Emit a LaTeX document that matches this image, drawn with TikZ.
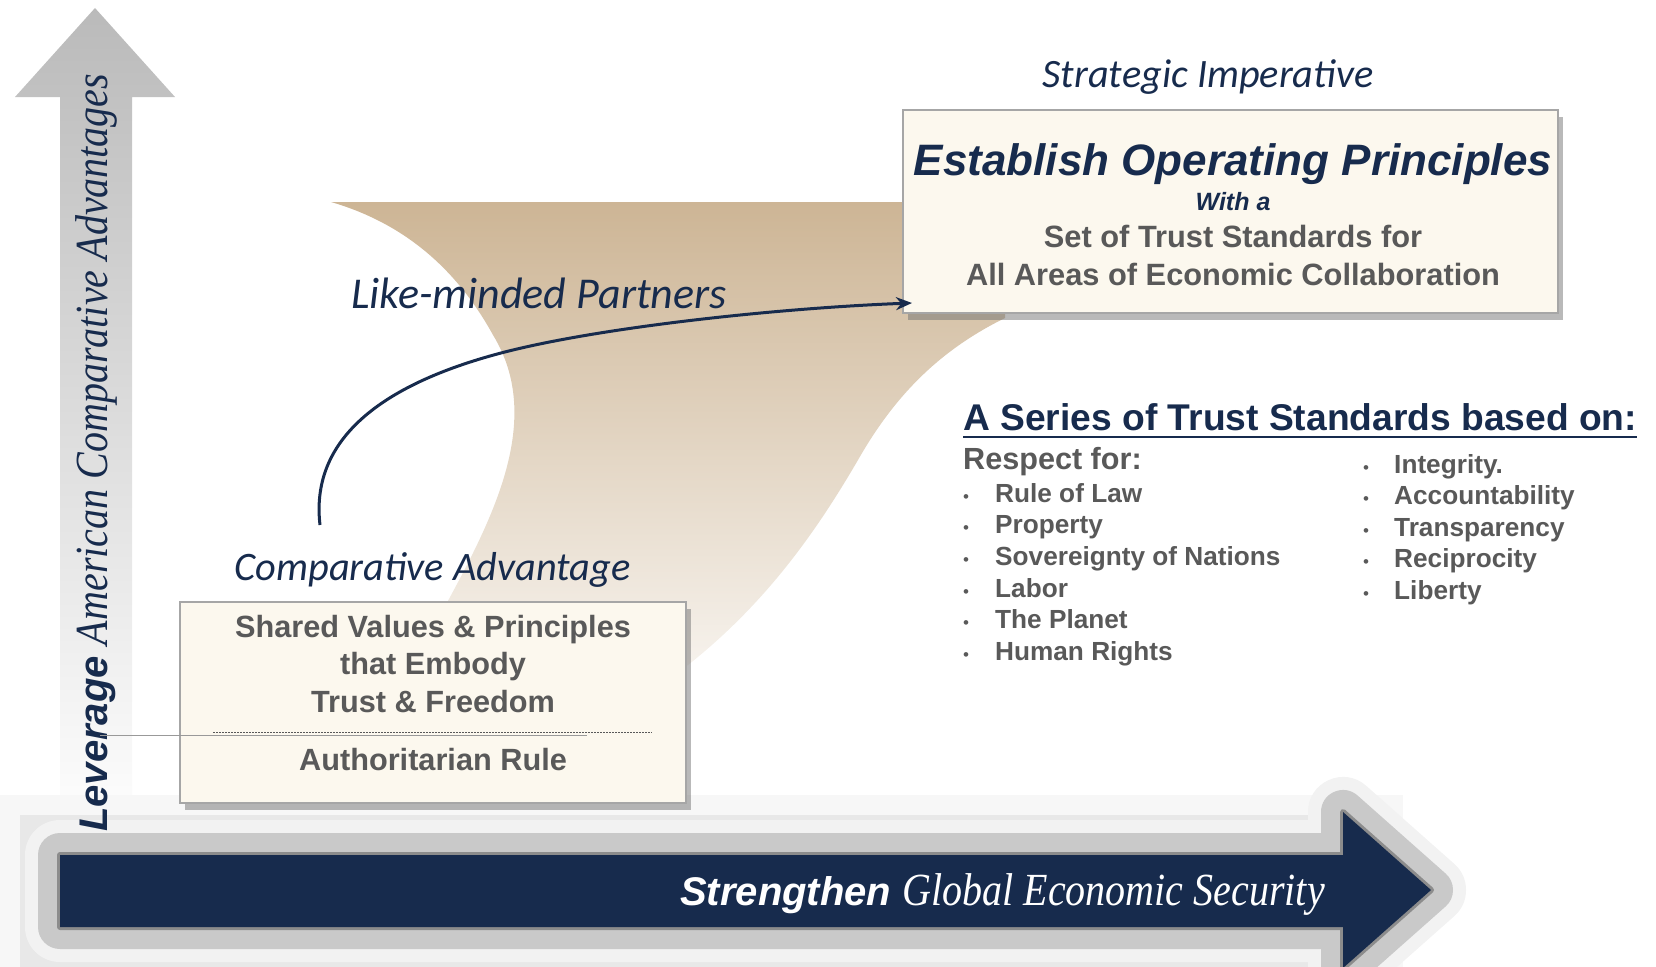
\documentclass[tikz,border=0pt]{standalone}
\usepackage{fontspec}
\setmainfont{Liberation Sans}
\newfontfamily\calfont{Carlito}
\newfontfamily\condserif[FakeStretch=0.87]{Liberation Serif}
\usetikzlibrary{shadows,arrows.meta}
\definecolor{navy}{HTML}{172B4D}
\definecolor{txtgray}{HTML}{595959}
\definecolor{cream}{HTML}{FCF8EE}
\definecolor{tan}{HTML}{CDB595}
\definecolor{boxline}{HTML}{A6A6A6}
\newcommand{\fsz}[1]{\fontsize{#1}{#1}\selectfont}

\begin{document}
\begin{tikzpicture}[x=1pt,y=-1pt]
    \tikzstyle{card} = [rectangle, fill=cream, draw=boxline, line width=1.5pt, drop shadow={shadow xshift=5pt, shadow yshift=-7pt, fill=black!55}]
    \tikzstyle{boxtxt} = [inner sep=0pt, anchor=base, text=txtgray, font=\bfseries]
    \tikzstyle{hdtxt} = [inner sep=0pt, anchor=base, text=navy, font=\bfseries\itshape]
    \tikzstyle{captxt} = [inner sep=0pt, anchor=base, text=navy, font=\calfont\itshape]
    \tikzstyle{listtxt} = [inner sep=0pt, anchor=base west, text=txtgray, font=\bfseries\fsz{26.2}]
    \tikzstyle{dot} = [inner sep=0pt, anchor=base, text=txtgray, font=\fsz{17}]
    \tikzstyle{arrow} = [line width=3pt, draw=navy, -{Stealth[length=16pt,width=13pt]}]
    \useasboundingbox (0,0) rectangle (1656,966);
    \clip (0,0) rectangle (1656,966);
    % tan band
    \shade[top color=tan, bottom color=tan!8] (331,202) -- (1005,202) -- (1005,318)
        .. controls (940,350) and (895,395) .. (858,460)
        .. controls (820,525) and (770,600) .. (688,665) -- (600,720) -- (443,720) -- (443,610)
        .. controls (492,520) and (545,420) .. (493,335)
        .. controls (460,275) and (410,225) .. (331,202) -- cycle;
    % vertical axis
    \shade[top color=black!27, bottom color=white] (60,840) -- (60,97) -- (15,97) -- (95,8) -- (175,97) -- (132,97) -- (132,840) -- cycle;
    % horizontal axis
    \foreach \w/\c in {120/black!3, 80/black!9}
        \draw[line width=\w pt, draw=\c] (60,855) rectangle (1343,927);
    \foreach \w/\c in {70/black!5, 44/black!21, 6/black!45}
        \draw[line width=\w pt, draw=\c, line join=round] (60,855) -- (1343,855) -- (1343,812) -- (1431,890) -- (1343,968) -- (1343,927) -- (60,927) -- cycle;
    \fill[navy] (60,855) -- (1343,855) -- (1343,812) -- (1431,890) -- (1343,968) -- (1343,927) -- (60,927) -- cycle;
    \node (strengthen) [anchor=base east, inner sep=0pt, text=white] at (1325,905) {\fsz{40}\bfseries\itshape Strengthen \condserif\mdseries\fsz{46}Global Economic Security};
    \node (leverage) [anchor=base west, inner sep=0pt, rotate=90, text=navy] at (107,832) {\fsz{40}\bfseries\itshape Leverage \condserif\mdseries\fsz{46}American Comparative Advantages};

    % boxes
    \node (estbox) [card, minimum width=655pt, minimum height=203pt] at (1230.5,211.5) {};
    \node (cabox) [card, minimum width=506pt, minimum height=201pt] at (433,702.5) {};
    \node (strat) [captxt] at (1208,88) {\fsz{40.3}Strategic Imperative};
    \node (establish) [hdtxt] at (1233,175) {\fsz{44}Establish Operating Principles};
    \node (witha) [hdtxt] at (1233,210) {\fsz{25}With a};
    \node (setof) [boxtxt] at (1233,247) {\fsz{30.8}Set of Trust Standards for};
    \node (allareas) [boxtxt] at (1233,285) {\fsz{30.8}All Areas of Economic Collaboration};

    \node (compadv) [captxt] at (432.5,580) {\fsz{40.4}Comparative Advantage};
    \node (shared) [boxtxt] at (433,637) {\fsz{30.7}Shared Values \& Principles};
    \node (embody) [boxtxt] at (433,674) {\fsz{30.7}that Embody};
    \node (freedom) [boxtxt] at (433,712) {\fsz{30.7}Trust \& Freedom};
    \node (authrule) [boxtxt] at (433,770) {\fsz{30.7}Authoritarian Rule};
    \draw[txtgray, line width=0.8pt, dash pattern=on 2pt off 1pt] (213,732) -- (652,732);
    \draw[black!40, line width=1pt] (100,735) -- (587,735);

    % like-minded partners
    \node (likeminded) [captxt, anchor=base west] at (351,308) {\fsz{44}Like-minded Partners};
    \coordinate (likeStart) at (320,525);
    \coordinate (likeEnd) at (912,303);
    \draw[arrow] (likeStart) .. controls (310,440) and (380,385) .. (501,353) .. controls (600,327) and (780,308) .. (likeEnd);

    % trust standards
    \node (series) [anchor=base west, inner sep=0pt, text=navy, font=\bfseries] at (963,430) {\fsz{37.2}A Series of Trust Standards based on:};
    \draw[navy, line width=2.5pt] ([yshift=-7pt]series.base west) -- ([yshift=-7pt]series.base east);
    \node (respect) [listtxt, font=\bfseries\fsz{30.6}] at (963,469) {Respect for:};
    \foreach \lbl [count=\i] in {Rule of Law, Property, Sovereignty of Nations, Labor, The Planet, Human Rights} {
        \node (ldot\i) [dot] at (966,470.3+31.7*\i) {\textbullet};
        \node (left\i) [listtxt] at (995,470.3+31.7*\i) {\lbl};
    }
    \foreach \lbl [count=\i] in {Integrity., Accountability, Transparency, Reciprocity, Liberty} {
        \node (rdot\i) [dot] at (1366,441.5+31.5*\i) {\textbullet};
        \node (right\i) [listtxt] at (1394,441.5+31.5*\i) {\lbl};
    }
\end{tikzpicture}
\end{document}
